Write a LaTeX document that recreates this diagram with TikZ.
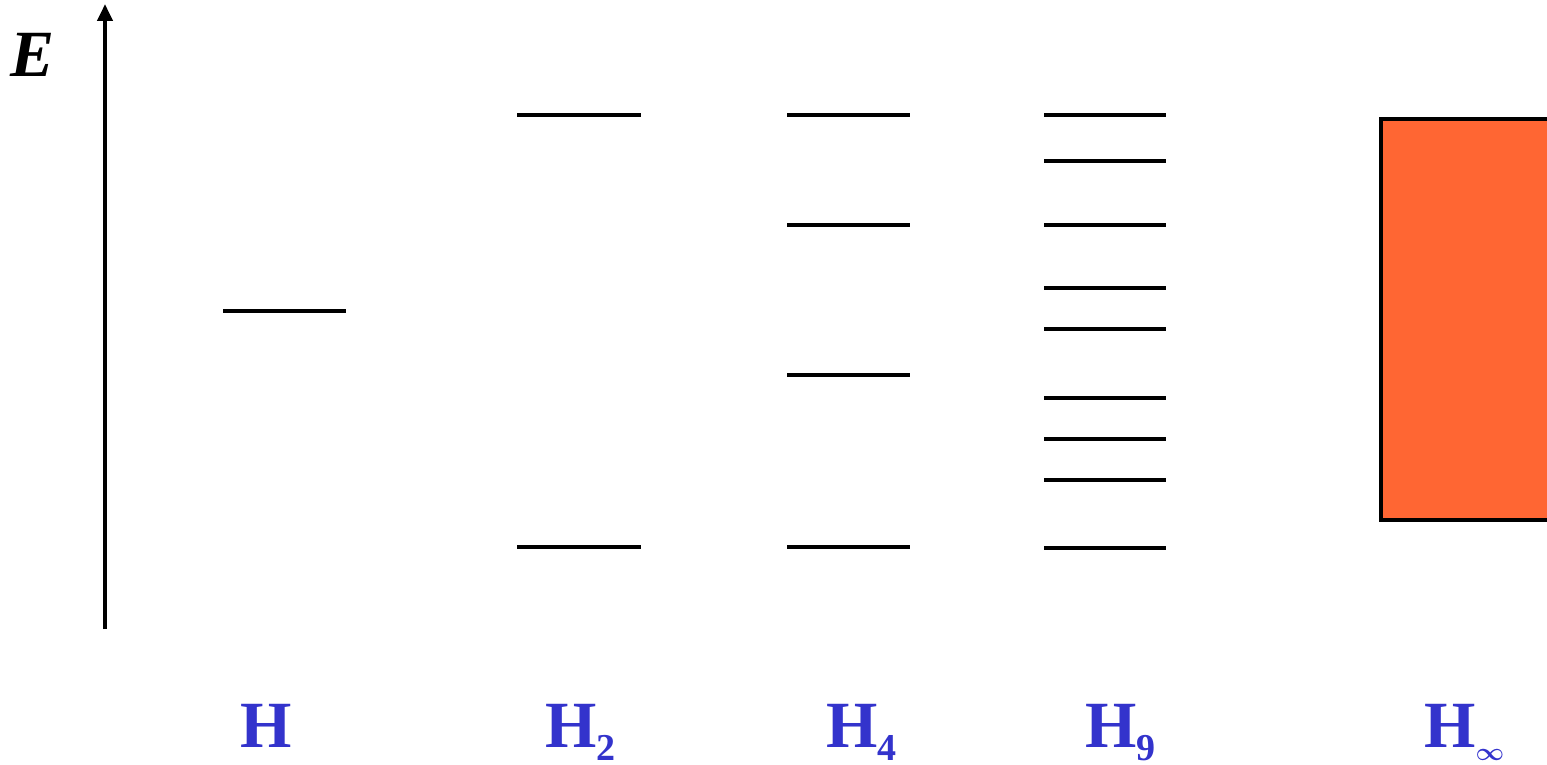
\documentclass[tikz,border=0pt]{standalone}
\usepackage{amsmath}
\usepackage{fontspec}
\setmainfont{Liberation Serif}
\usetikzlibrary{arrows.meta}
\definecolor{labblue}{HTML}{3333CC}
\definecolor{bandorange}{HTML}{FF6633}
\newcommand{\subdig}[1]{\raisebox{-13pt}{\fontsize{38}{38}\selectfont\bfseries #1}}
\tikzset{
  level/.style={line width=3.5pt, black},
  lab/.style={text=labblue, font=\fontsize{66}{70}\selectfont\bfseries, inner sep=0pt, anchor=base west},
}
\begin{document}
\begin{tikzpicture}[x=1pt,y=-1pt]
\useasboundingbox (0,0) rectangle (1547,765);
% axis
\coordinate (ax0) at (105,629);
\coordinate (ax1) at (105,4);
\draw[line width=4pt, -{Triangle[length=17pt,width=15pt]}] (ax0) -- (ax1);
\node[font=\fontsize{66}{70}\selectfont\bfseries\itshape, inner sep=0pt, anchor=base] (E) at (33,77) {E};
% H
\draw[level] (223,311) -- (346,311);
% H2
\foreach \y in {115,547} \draw[level] (517,\y) -- (641,\y);
% H4
\foreach \y in {115,225,375,547} \draw[level] (787,\y) -- (910,\y);
% H9
\foreach \y in {115,161,225,288,329,398,439,480,548} \draw[level] (1044,\y) -- (1166,\y);
% band
\draw[line width=3.5pt, fill=bandorange] (1381,119) rectangle (1600,520);
% labels
\node[lab] (l1) at (240,747) {H};
\node[lab] (l2) at (545,747) {H\subdig{2}};
\node[lab] (l4) at (826,747) {H\subdig{4}};
\node[lab] (l9) at (1085,747) {H\subdig{9}};
\node[lab] (li) at (1424,747) {H\raisebox{-13pt}{\fontsize{32}{32}\selectfont$\boldsymbol{\infty}$}};
\end{tikzpicture}
\end{document}
